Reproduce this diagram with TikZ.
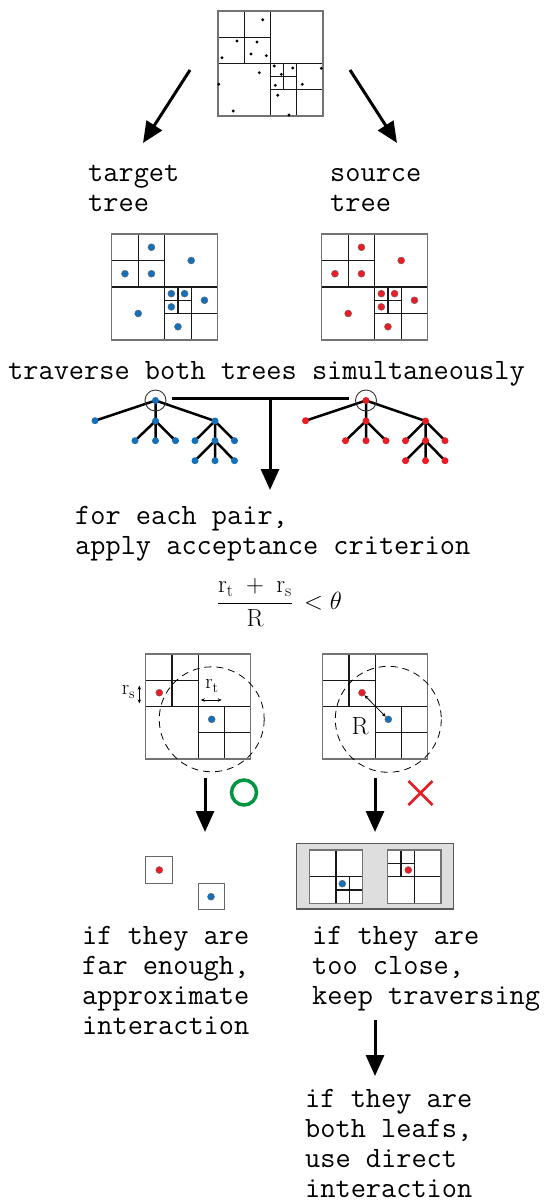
\documentclass[tikz,border=0pt]{standalone}
\usetikzlibrary{arrows.meta}
\definecolor{dotblue}{RGB}{20,112,186}
\definecolor{dotred}{RGB}{236,28,36}
\definecolor{okgreen}{RGB}{0,150,64}
\newcommand{\ttlabel}{\fontsize{29.5}{30}\selectfont\ttfamily}
\newcommand{\qTL}{\draw[qline] (0.25,0)--(0.25,0.5) (0,0.25)--(0.5,0.25);}
\newcommand{\qBR}{\draw[qline] (0.75,0.5)--(0.75,1) (0.5,0.75)--(1,0.75);}
\newcommand{\qBRTL}{\draw[qline] (0.625,0.5)--(0.625,0.75) (0.5,0.625)--(0.75,0.625);}
\newcommand{\qgrid}[4]{%
  \begin{scope}[shift={(#1,#2)},x=#3pt,y=-#3pt]
    \draw[qline] (0.5,0)--(0.5,1) (0,0.5)--(1,0.5);
    #4
    \draw[qborder] (0,0) rectangle (1,1);
  \end{scope}}
\newcommand{\qdots}[5]{% x y s style prefix
  \begin{scope}[shift={(#1,#2)},x=#3pt,y=-#3pt]
    \foreach \p [count=\i] in {(0.375,0.125),(0.75,0.25),(0.125,0.375),(0.375,0.375),(0.5625,0.5625),(0.6875,0.5625),(0.875,0.625),(0.5625,0.6875),(0.25,0.75),(0.625,0.875)}
      \node[#4] (#5\i) at \p {};
  \end{scope}}
\newcommand{\drawtree}[3]{% prefix, x shift, dot style
  \begin{scope}[shift={(#2,0)}]
    \coordinate (#1r) at (155.5,400.5);
    \coordinate (#1l) at (95,420.7);
    \coordinate (#1m) at (155.5,421);
    \coordinate (#1n) at (215,421);
    \coordinate (#1ma) at (135,440.7);
    \coordinate (#1mb) at (155.5,440.7);
    \coordinate (#1mc) at (175.5,440.7);
    \coordinate (#1na) at (195,440.7);
    \coordinate (#1nb) at (215,440.7);
    \coordinate (#1nc) at (234.5,440.7);
    \coordinate (#1ba) at (195,460.7);
    \coordinate (#1bb) at (215,460.7);
    \coordinate (#1bc) at (234.5,460.7);
    \draw[edge] (#1r)--(#1l) (#1r)--(#1m) (#1r)--(#1n)
      (#1m)--(#1ma) (#1m)--(#1mb) (#1m)--(#1mc)
      (#1n)--(#1na) (#1n)--(#1nb) (#1n)--(#1nc)
      (#1nb)--(#1ba) (#1nb)--(#1bb) (#1nb)--(#1bc);
    \foreach \q in {r,l,m,n,ma,mb,mc,na,nb,nc,ba,bb,bc}
      \node[#3] at (#1\q) {};
    \node[draw=black!80, line width=0.9pt, circle, minimum size=21pt, inner sep=0pt] (#1c) at (#1r) {};
  \end{scope}}
\begin{document}
\begin{tikzpicture}[x=1pt,y=-1pt,
  qborder/.style={draw=black!55, line width=1.4pt},
  qline/.style={draw=black!90, line width=1.1pt},
  bdot/.style={circle, fill=dotblue, draw=black!60, line width=0.4pt, inner sep=0pt, minimum size=7pt},
  rdot/.style={circle, fill=dotred, draw=black!60, line width=0.4pt, inner sep=0pt, minimum size=7pt},
  tbdot/.style={circle, fill=dotblue, inner sep=0pt, minimum size=7pt},
  trdot/.style={circle, fill=dotred, inner sep=0pt, minimum size=7pt},
  kdot/.style={circle, fill=black, inner sep=0pt, minimum size=3.2pt},
  bigarrow/.style={line width=3pt, -{Triangle[length=21pt,width=18pt]}},
  edge/.style={line width=2.5pt},
  smallarrow/.style={line width=0.8pt, {Stealth[length=4pt,width=3.5pt]}-{Stealth[length=4pt,width=3.5pt]}},
  lbl/.style={font=\ttlabel, align=left, anchor=base west, inner sep=0pt},
  mlbl/.style={inner sep=0pt}
]
\useasboundingbox (0,0) rectangle (547,1202);

% top quadtree
\qgrid{218}{11}{105}{\qTL\qBR\qBRTL}
\foreach \p [count=\i] in {(262.7,19.7),(237,41),(257,42),(222,57.7),(251,54),(266.3,55.7),(259.3,72.7),(218.7,84.3),(233.3,111),(274.3,66),(281.3,74.3),(292.7,68),(321.3,68.3),(275.3,85.3),(302.3,84.3),(277.7,95.3),(289,115)}
  \node[kdot] (k\i) at \p {};

% arrows to the two trees
\coordinate (a1s) at (190,70);
\coordinate (a1e) at (143,143);
\coordinate (a2s) at (350,70);
\coordinate (a2e) at (397,143);
\draw[bigarrow] (a1s) -- (a1e);
\draw[bigarrow] (a2s) -- (a2e);

% (base anchor = baseline of the last line)
\node[lbl] (tgtlbl) at (88,211) {target\\tree};
\node[lbl] (srclbl) at (330,211) {source\\tree};

% target and source quadtrees
\qgrid{111.7}{234}{106}{\qTL\qBR\qBRTL}
\qdots{111.7}{234}{106}{bdot}{tg}
\qgrid{321.7}{234}{106}{\qTL\qBR\qBRTL}
\qdots{321.7}{234}{106}{rdot}{sr}

\node[lbl] (trav) at (8,379) {traverse both trees simultaneously};

% trees
\drawtree{A}{0}{tbdot}
\drawtree{B}{210.5}{trdot}
\coordinate (join) at (270,398.5);
\coordinate (crit) at (270,490);
\draw[line width=2.8pt] ([xshift=6pt]Ac.east |- join) -- ([xshift=-6pt]Bc.west |- join);
\draw[bigarrow] ([yshift=-1.4pt]join) -- (crit);

\node[lbl] (pair) at (75,554) {for each pair,\\apply acceptance criterion};

% formula
\node[mlbl, anchor=base] (form) at (279.5,609.5) {\fontsize{25}{28}\selectfont$\displaystyle\frac{\mathrm{r_t}\;+\;\mathrm{r_s}}{\mathrm{R}}\,<\theta$};

% criterion boxes
\qgrid{145.7}{654}{105}{\qTL\qBR}
\node[rdot] (lr) at (159.3,692.7) {};
\node[bdot] (lb) at (211.7,719.3) {};
\draw[dashed, dash pattern=on 7pt off 5pt, line width=0.8pt] (lb) circle (52.5);
\coordinate (rsa) at (139.3,685.7);
\coordinate (rsb) at (139.3,703.3);
\draw[smallarrow] (rsa) -- (rsb);
\node[mlbl, anchor=east] (rslbl) at (135.5,692) {\fontsize{22}{24}\selectfont$\mathrm{r_s}$};
\coordinate (rta) at (200.7,700);
\coordinate (rtb) at (221.7,700);
\draw[smallarrow] (rta) -- (rtb);
\node[mlbl] (rtlbl) at (212,686) {\fontsize{22}{24}\selectfont$\mathrm{r_t}$};

\qgrid{322.7}{654}{105}{\qTL\qBR}
\node[rdot] (rr) at (362,692.7) {};
\node[bdot] (rb) at (388.3,719.3) {};
\draw[dashed, dash pattern=on 7pt off 5pt, line width=0.8pt] (rb) circle (53);
\draw[smallarrow] (rr) -- (rb);
\node[mlbl] (Rlbl) at (360,726) {\fontsize{25}{28}\selectfont$\mathrm{R}$};

% accept / reject marks
\node[draw=okgreen, line width=3.5pt, circle, minimum size=25pt, inner sep=0pt] (ok) at (244,792.5) {};
\draw[draw=dotred, line width=2.8pt] (408.5,781)--(432.5,805) (408.5,805)--(432.5,781);

% down arrows
\coordinate (d1s) at (205,778);
\coordinate (d1e) at (205,832);
\coordinate (d2s) at (375,778);
\coordinate (d2e) at (375,832);
\draw[bigarrow] (d1s) -- (d1e);
\draw[bigarrow] (d2s) -- (d2e);

% far enough: two small boxes
\draw[draw=black!60, line width=1.2pt] (145.7,856.7) rectangle (172.3,883.3);
\node[rdot] (fr) at (159.3,870) {};
\draw[draw=black!60, line width=1.2pt] (198.3,883.3) rectangle (224.3,909.3);
\node[bdot] (fb) at (211,896.7) {};

% too close: gray panel with two quadtrees
\draw[fill=black!13, draw=black!65, line width=1.3pt] (296.7,843.3) rectangle (453.3,909);
\fill[white] (309.3,850) rectangle ++(53.3,53.3);
\qgrid{309.3}{850}{53.3}{\qBR}
\node[bdot] (cb) at (342.3,883.7) {};
\fill[white] (387.7,850) rectangle ++(53.3,53.3);
\qgrid{387.7}{850}{53.3}{\qTL}
\node[rdot] (cr) at (408.3,870) {};

\node[lbl] (far) at (82,1034) {if they are\\far enough,\\approximate\\interaction};
\node[lbl] (close) at (312,1004) {if they are\\too close,\\keep traversing};

\coordinate (d3s) at (375,1020);
\coordinate (d3e) at (375,1076);
\draw[bigarrow] (d3s) -- (d3e);

\node[lbl] (leaf) at (305,1197) {if they are\\both leafs,\\use direct\\interaction};
\end{tikzpicture}
\end{document}
